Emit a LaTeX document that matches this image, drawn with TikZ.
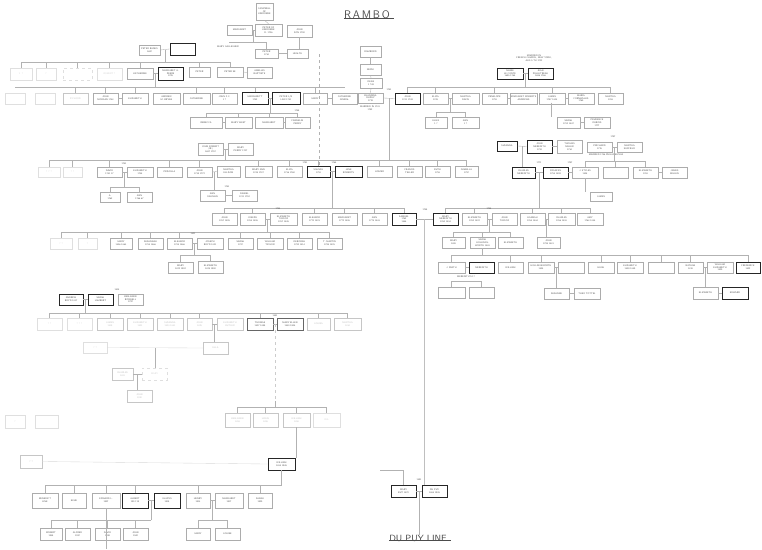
\documentclass[tikz,border=0pt]{standalone}
\usetikzlibrary{calc}
\newcommand\Bx[7][]{\node[bx,#1,minimum width=#5pt-#3pt,minimum height=#6pt-#4pt] (#2) at ({(#3+#5)/2},{(#4+#6)/2}) {#7};}
\newcommand\M[2]{\draw[ln] (#1.east) -- (#2.west); \coordinate (#1-#2) at ($(#1.east)!.5!(#2.west)$);}
\newcommand\Fam[5]{\draw[ln] (#1) -- (#1 |- 0,#2); \draw[ln] (#3.north |- 0,#2) -- (#4.north |- 0,#2); \draw[ln] (#1 |- 0,#2) -- (#3.north |- 0,#2);
 \foreach \ch in {#5}{\draw[ln] (\ch.north) -- (\ch.north |- 0,#2);}}
\begin{document}
\begin{tikzpicture}[x=1pt,y=-1pt,
 bx/.style={draw=gray!65,line width=0.35pt,fill=white,inner sep=0.2pt,align=center,font=\fontsize{2.3}{2.7}\selectfont\sffamily,text=gray!60!black},
 tk/.style={draw=black!85,line width=0.9pt},
 fd/.style={draw=gray!25,text=gray!35},
 lt/.style={draw=gray!45,text=gray!50},
 ln/.style={draw=gray!60,line width=0.35pt},
 lab/.style={font=\fontsize{2.3}{2.7}\selectfont\sffamily,text=gray!60!black,inner sep=0,align=center}]
\useasboundingbox[fill=white] (0,0) rectangle (762,549);
% title
\node[font=\fontsize{11}{12}\selectfont\sffamily,text=gray!60!black,inner sep=0] (title) at (367,15) {R\,A\,M\,B\,O};
\draw[gray!60!black,line width=0.4pt] (title.south west) ++(0,-1.5) -- ++(50,0);
% ---------- top cluster
\Bx{camp}{256}{3}{273}{20}{CAMPBELL\\OF\\KINROSSIE}
\Bx{marg0}{227}{25}{252}{35}{MARGARET}
\Bx{peter0}{255}{24}{282}{36}{PETER OF\\KINROSSIE\\D. 1726}
\Bx{unk0}{287}{25}{312}{37}{JOHN\\SON 1700}
\draw[ln] (camp.south) -- (peter0.north);
\M{marg0}{peter0}
\Bx{peterA4}{255}{49}{278}{58}{PETER\\1734}
\Bx{health}{287}{49}{308}{58}{HEALTH}
\M{peterA4}{health}
\draw[ln] (marg0-peter0) -- ++(0,12) coordinate (k1);
\draw[ln] (k1) -- (peterA4.north |- k1) -- (peterA4.north);
\draw[ln] (k1) -- ++(-25,0);
\node[lab] (mg) at (228,47) {MARY GALLEGHER};
\draw[ln] (unk0.south) -- (health.north -| unk0.south);
\coordinate (dtop) at (319,54);
% ---------- left top
\Bx{banks}{139}{45}{160}{55}{PETER BANKS\\1697}
\Bx[tk]{emp1}{170}{43}{195}{55}{}
\M{banks}{emp1}
\Bx[fd]{f1}{10}{68}{32}{80}{1 \ ?}
\Bx[fd]{f2}{36}{68}{56}{80}{?}
\Bx[fd,dashed]{f3}{63}{68}{92}{80}{}
\Bx[fd]{rob}{97}{68}{122}{80}{ROBERT ?}
\Bx{kath}{127}{68}{153}{79}{KATHERINE}
\Bx[tk]{mpeers}{158}{67}{183}{80}{MARGARET A.\\PEERS\\1705}
\Bx{peterB}{189}{67}{210}{77}{PETER}
\Bx{peterse}{217}{67}{243}{77}{PETER SE}
\Bx{amelia}{247}{67}{272}{78}{AMELIAS\\BAPTISTE}
\Fam{banks-emp1}{62}{f1}{peterse}{f1,f2,f3,rob,kath,peterB,peterse}
\M{kath}{mpeers}
\M{peterse}{amelia}
% row 2 left
\Bx[fd]{f4}{5}{93}{25}{104}{}
\Bx[fd]{f5}{35}{93}{55}{104}{}
\Bx[lt]{pfl}{63}{93}{88}{104}{P.\,FLOOD}
\Bx{john2}{93}{93}{118}{104}{JOHN\\MORGAN 1748}
\Bx{eliz2}{122}{93}{148}{104}{ELIZABETH}
\Bx{andrew2}{153}{93}{180}{104}{ANDREW\\M. BRYAN}
\Bx{cath2}{183}{93}{210}{104}{CATHERINE}
\Bx{johnfc}{212}{93}{237}{104}{JOHN F.C.\\1 ?}
\Bx[tk]{margt}{242}{92}{268}{104}{MARGARETT\\1742}
\Bx[tk]{peter81}{272}{92}{300}{104}{PETER 1/N\\LAW 1781}
\Bx{mary2}{303}{93}{327}{104}{MARY}
\Bx{cath3}{332}{93}{357}{104}{CATHERINE\\GIMBAL}
\Fam{kath-mpeers}{87}{f4}{cath3}{pfl,john2,eliz2,cath2,johnfc,margt,mary2}
\M{margt}{peter81}
\M{mary2}{cath3}
\M{john2}{eliz2}
\Bx{rebecca}{190}{117}{222}{128}{REBECCA}
\Bx{marywest}{225}{117}{252}{128}{MARY WEST}
\Bx{marg3}{255}{117}{283}{128}{MARGARET}
\Bx{franklin}{285}{117}{310}{128}{FRANKLIN\\PERRY}
\Fam{margt-peter81}{113}{rebecca}{franklin}{rebecca,marywest,marg3,franklin}
\M{rebecca}{marywest}
\M{marg3}{franklin}
\node[lab] at (297,111) {1745};
% right column
\Bx{rambord}{360}{46}{381}{57}{RAMBORD}
\Bx{nephi}{360}{64}{381}{75}{NEPHI}
\Bx{dean}{360}{78}{382}{88}{DEAN\\1 ?49}
\Bx{marr}{358}{93}{383}{103}{BLANDINA\\DUPUY\\1719}
\draw[ln] (rambord.south) -- (nephi.north);
\draw[ln] (nephi.south) -- (dean.north);
\draw[ln] (dean.south) -- (marr.north);
\node[lab] at (370,108) {MARRIED IN 1741\\1752};
\M{cath3}{marr}
% right top family
\node[lab] (mfc) at (534,58) {MARRIED IN\\FRENCH CHURCH, NEW YORK,\\AUG 5 TH 1722};
\Bx[tk]{hug}{497}{68}{523}{79}{MARIE\\LE CONTE\\1695 1764}
\Bx[tk]{jean}{528}{68}{553}{79}{JEAN\\PELLETREAU\\1696 1766}
\M{hug}{jean}
\Bx[tk]{johnR}{395}{93}{420}{104}{JOHN\\1741 1749}
\Bx{eliza}{423}{93}{448}{104}{ELIZA\\1743}
\Bx{marthaD}{452}{93}{479}{104}{MARTHA\\DAVIS}
\Bx{pen}{482}{93}{507}{104}{PENELOPE\\1751}
\Bx{margA}{510}{93}{537}{104}{MARGARET ROBERTS\\ANDREWS}
\Bx{jamesR}{539}{93}{565}{104}{JAMES\\1757 1808}
\Bx{mariaC}{568}{93}{594}{104}{MARIA\\CORNWALLIS\\1760}
\Bx{marthaR}{598}{93}{623}{104}{MARTHA\\1763}
\Fam{hug-jean}{87}{johnR}{marthaR}{johnR,eliza,pen,jamesR,marthaR}
\M{marr}{johnR}
\node[lab] at (389,90) {1741};
\M{eliza}{marthaD}
\M{pen}{margA}
\M{jamesR}{mariaC}
\Bx{eliz3}{425}{117}{447}{128}{ELIZA\\1 ?}
\Bx{ann3}{452}{117}{479}{128}{ANN\\1 ?}
\Fam{eliza-marthaD}{112}{eliz3}{ann3}{eliz3,ann3}
\Bx{sarah3}{557}{117}{580}{128}{SARAH\\1782 1847}
\Bx{prud}{584}{117}{610}{128}{PRUDENCE\\DUBOIS\\1777}
\draw[ln] (jamesR-mariaC) ++(-15,4) coordinate (k2) -- (sarah3.north -| k2);
\M{sarah3}{prud}
% long lines
\draw[ln] (marr-johnR) -- ++(0,62) coordinate (k3);
% middle row
\Bx{jr}{198}{143}{223}{155}{JOHN ROBERT\\(JR.)\\1697 1757}
\Bx{maryp}{228}{143}{253}{155}{MARY\\PERRY 1707}
\M{jr}{maryp}
\Bx[fd]{f6}{38}{167}{60}{177}{? ? ?}
\Bx[fd]{f7}{63}{167}{82}{177}{? ?}
\Bx{david}{97}{167}{122}{177}{DAVID\\1741 17}
\Bx{elizM}{127}{167}{153}{177}{ELIZABETH\\1738}
\Bx{prisc}{157}{167}{182}{177}{PRISCILLA}
\Bx{b187}{187}{167}{212}{177}{JOHN\\1739 1772}
\Bx{marthaE}{217}{166}{240}{177}{MARTHA\\ELLISON}
\Bx{maryM}{245}{166}{272}{177}{MARY ANN\\1745 1787}
\Bx{b277}{277}{166}{302}{177}{ELIZA\\1736 1760}
\Bx[tk]{samuel}{307}{166}{330}{177}{SAMUEL\\1751}
\Bx[tk]{jane}{335}{166}{362}{177}{JANE\\ROBERTS}
\Bx{homer}{367}{166}{392}{177}{HOMER}
\Bx{francis}{397}{166}{422}{177}{FRANCIS\\TELLER}
\Bx{ruth}{425}{166}{450}{177}{RUTH\\1753}
\Bx{isab}{455}{166}{478}{177}{ISABELLA\\1757}
\Fam{jr-maryp}{160}{f6}{isab}{f6,f7,david,prisc,b187,maryM,b277,samuel,homer,francis,ruth,isab}
\M{david}{elizM}
\M{b187}{marthaE}
\M{samuel}{jane}
\node[lab] at (305,163) {1751};
\node[lab] at (334,163) {1764};
\node[lab] at (124,164) {1741};
\draw[ln,dashed] (dtop) -- (samuel.north -| dtop);
\Bx{aX}{100}{192}{120}{202}{A.\\1762}
\Bx{annX}{127}{192}{152}{202}{ANN\\1766 67}
\Fam{david-elizM}{187}{aX}{annX}{aX,annX}
\Bx{annO}{200}{190}{225}{201}{ANN\\OAKMAN}
\Bx{daniel}{232}{190}{257}{201}{DANIEL\\1741 1752}
\draw[ln] (b187-marthaE) -- (annO.north -| b187-marthaE);
\M{annO}{daniel}
\node[lab] at (227,187) {1741};
% ---------- right middle cluster
\Bx[tk]{susanna}{497}{141}{517}{151}{SUSANNA}
\Bx[tk]{jmer}{527}{140}{552}{153}{JOHN\\MEREDITH\\1724}
\Bx{tmill}{557}{140}{582}{153}{THOMAS\\MILLER\\1734}
\Bx{prich}{587}{142}{612}{152}{PRICHARD\\1715}
\Bx{msuff}{617}{142}{642}{152}{MARTHA\\SUFFIELD}
\M{susanna}{jmer}
\M{jmer}{tmill}
\M{prich}{msuff}
\node[lab] at (613,137) {1757};
\node[lab] at (606,155) {MARRIED 1756 PHILADELPHIA};
\Bx[tk]{charles}{512}{167}{535}{178}{CHARLES\\MEREDITH}
\Bx[tk]{frances}{543}{167}{568}{178}{FRANCES\\1758 1809}
\Bx{styles}{572}{167}{598}{178}{J. STYLES\\1808}
\Bx{empt2}{603}{167}{628}{178}{}
\Bx{elizB}{633}{167}{658}{178}{ELIZABETH\\1761}
\Bx{jmillen}{662}{167}{687}{178}{JAMES\\MILLEN}
\draw[ln] (susanna-jmer) -- (charles.north -| susanna-jmer);
\Fam{prich-msuff}{161}{styles}{elizB}{styles,empt2,elizB}
\M{charles}{frances}
\M{frances}{styles}
\M{elizB}{jmillen}
\node[lab] at (539,163) {1771};
\node[lab] at (570,163) {1757};
\Bx{james}{590}{192}{612}{201}{JAMES}
\draw[ln] (styles.south) -- (james.north -| styles.south);
% row y 213
\Bx{john4}{212}{213}{237}{225}{JOHN\\1767 1805}
\Bx{jane4}{240}{213}{265}{225}{JOSEPH\\1768 1826}
\Bx{elizT}{270}{213}{297}{225}{ELIZABETH\\TAYLOR\\1767 1845}
\Bx{eleanor}{302}{213}{327}{225}{ELEANOR\\1770 1823}
\Bx{margT}{332}{213}{357}{225}{MARGARET\\1772 1826}
\Bx{ann4}{362}{213}{387}{225}{ANN\\1775 1843}
\Bx[tk]{hannah}{392}{213}{416}{225}{SAMUEL\\1762\\1844}
\Fam{samuel-jane}{208}{john4}{hannah}{john4,jane4,eleanor,margT,ann4,hannah}
\M{jane4}{elizT}
\node[lab] at (278,209) {1783};
\Bx[tk]{mmer}{433}{213}{458}{225}{MARY\\MEREDITH\\1760 1834}
\Bx{eliz5}{462}{213}{487}{225}{ELIZABETH\\1762 1822}
\Bx{jtay}{492}{213}{517}{225}{JOHN\\TAYLOR}
\Bx{hann5}{520}{213}{545}{225}{HANNAH\\1764 1844}
\Bx{char5}{548}{213}{575}{225}{CHARLES\\1766 1838}
\Bx{amy}{577}{213}{603}{225}{AMY\\1768 1834}
\Fam{charles-frances}{208}{mmer}{amy}{mmer,eliz5,hann5,char5,amy}
\M{hannah}{mmer}
\node[lab] at (425,210) {1785};
\M{eliz5}{jtay}
\M{hann5}{char5}
\node[lab] at (489,209) {1788};
% row y 237
\Bx[fd]{f8}{50}{238}{72}{249}{? ?}
\Bx[fd]{f9}{78}{238}{97}{249}{?}
\Bx{mary6}{110}{238}{132}{249}{MARY\\1806 1863}
\Bx{susan6}{138}{238}{163}{249}{SUSANNAH\\1784 1866}
\Bx{elea6}{167}{238}{192}{249}{ELEANOR\\1785 1866}
\Bx{jos6}{197}{238}{223}{249}{JOSEPH\\BOYD 1821}
\Bx{sarah6}{228}{238}{253}{249}{SARAH\\1787}
\Bx{will6}{257}{238}{283}{249}{WILLIAM\\TAYLOR}
\Bx{deb6}{287}{238}{312}{249}{DEBORAH\\1792 1814}
\Bx{tmart}{317}{238}{342}{249}{T. MARTIN\\1795 1876}
\Fam{jane4-elizT}{232}{f8}{tmart}{f8,f9,mary6,susan6,elea6,sarah6,will6,deb6,tmart}
\M{elea6}{jos6}
\node[lab] at (193,234) {1821};
\Bx{mary7}{168}{262}{193}{273}{MARY\\1822 1902}
\Bx{eliz7}{198}{261}{223}{273}{ELIZABETH\\1825 1900}
\Fam{elea6-jos6}{255}{mary7}{eliz7}{mary7,eliz7}
\Bx{mary8}{442}{237}{465}{248}{MARY\\1808}
\Bx{susan8}{470}{237}{495}{248}{SARAH\\HOLLINGS-\\WORTH 1888}
\Bx{eliz8}{498}{237}{523}{248}{ELIZABETH}
\Fam{eliz5-jtay}{232}{mary8}{eliz8}{mary8,susan8,eliz8}
\Bx{john8}{537}{237}{560}{248}{JOHN\\1795 1881}
\draw[ln] (hann5-char5) -- (john8.north -| hann5-char5);
% row y 262
\Bx{smith}{438}{262}{465}{273}{J. SMITH}
\Bx[tk]{mered9}{469}{262}{494}{273}{MEREDITH}
\Bx{will9}{498}{262}{523}{273}{WILLIAM}
\Bx{bost9}{528}{262}{554}{273}{HOLLINGSWORTH\\1803}
\Bx{emp9}{558}{262}{584}{273}{}
\Bx{hugh9}{588}{262}{614}{273}{HUGH}
\Bx{eliz9}{617}{262}{643}{273}{ELIZABETH\\1809 1849}
\Bx{emp10}{648}{262}{674}{273}{}
\Bx{nath9}{678}{262}{703}{273}{NATHAN\\1818}
\Bx{will10}{707}{262}{733}{273}{WILLIAM\\ELIZABETH\\1820}
\Bx[tk]{fred9}{736}{262}{760}{273}{FREDERICK\\1822}
\draw[ln] (susan8.south) -- ++(0,7) coordinate (k4);
\draw[ln] (smith.north |- k4) -- (fred9.north |- k4);
\foreach \ch in {smith,will9,bost9,hugh9,eliz9,emp10,nath9,fred9}{\draw[ln] (\ch.north) -- (\ch.north |- k4);}
\M{smith}{mered9}
\M{bost9}{emp9}
\M{nath9}{will10}
\node[lab] at (466,277) {MEREDITH'S 1?};
\Bx{e1}{438}{287}{465}{298}{}
\Bx{e2}{469}{287}{494}{298}{}
\draw[ln] (e1.north) -- ++(0,-6) -| (e2.north);
\Bx{susanne}{544}{288}{569}{299}{SUSANNE}
\Bx{theo}{574}{288}{600}{299}{THEO TOTTEL}
\draw[ln] (bost9-emp9) -- (susanne.north -| bost9-emp9);
\M{susanne}{theo}
\Bx{eliz11}{693}{287}{718}{299}{ELIZABETH}
\Bx[tk]{edw11}{722}{287}{748}{299}{EDWARD}
\draw[ln] (nath9-will10) -- (eliz11.north -| nath9-will10);
\M{eliz11}{edw11}
% ---------- lower left cluster
\Bx[tk]{b1}{59}{294}{83}{305}{ANDREW\\BOYD 1817}
\Bx[tk]{b2}{88}{294}{113}{305}{SARAH\\LAMBERT}
\Bx{b3}{118}{294}{143}{305}{BENJAMIN\\BOSWELL\\1797}
\M{b1}{b2}
\node[lab] at (117,290) {1818};
\Bx[fd]{c1}{37}{318}{62}{330}{? ?}
\Bx[fd]{c2}{67}{318}{92}{330}{? ? ?}
\Bx[lt]{c3}{97}{318}{123}{330}{JAMES\\1819}
\Bx[lt]{c4}{127}{318}{153}{330}{ELIZABETH\\1821}
\Bx[lt]{c5}{157}{318}{183}{330}{SUSANNA\\1823 1841}
\Bx[lt]{c6}{187}{318}{212}{330}{JOHN\\1825}
\Bx[lt]{c7}{217}{318}{243}{330}{ELIZABETH\\BUTLER}
\Bx[tk,draw=black!60]{c8}{247}{318}{273}{330}{THOMAS\\1827 1895}
\Bx[tk,draw=black!60]{c9}{277}{318}{303}{330}{MARY ELLEN\\1830 1904}
\Bx[lt]{c10}{307}{318}{330}{330}{LOUISA}
\Bx[lt]{c11}{334}{318}{361}{330}{MARTHA\\1834}
\Fam{b1-b2}{313}{c1}{c11}{c1,c2,c3,c4,c5,c6,c8,c10,c11}
\M{c6}{c7}
\M{c8}{c9}
\node[lab] at (275,316) {1851};
\Bx[lt]{d1}{203}{342}{228}{354}{ELLA}
\Bx[fd]{d0}{83}{342}{107}{353}{? ?}
\draw[ln] (c6-c7) -- (d1.north -| c6-c7);
\draw[ln,gray!30] (d0.east) -- (d1.west);
\coordinate (k5) at (155,348);
\Bx[lt]{d2}{112}{368}{133}{380}{CHARLES\\1881}
\Bx[fd,dashed]{d3}{142}{368}{167}{380}{MARY}
\draw[ln] (k5) -- (k5 |- d2.north);
\M{d2}{d3}
\Bx[lt]{d4}{127}{390}{152}{402}{JOHN\\1910}
\draw[ln] (d2-d3) -- (d4.north -| d2-d3);
\draw[ln,dashed,gray!40] (c8-c9) -- ++(0,77) coordinate (k6);
\Bx[lt]{g1}{225}{413}{250}{427}{BENJAMIN\\1853}
\Bx[lt]{g2}{253}{413}{278}{427}{LEWIS\\1855}
\Bx[lt]{g3}{283}{413}{310}{427}{WILLIAM\\1858}
\Bx[fd]{g4}{313}{413}{340}{427}{IDA}
\Fam{k6}{407}{g1}{g4}{g1,g2,g3,g4}
\Bx[fd]{g0}{5}{415}{25}{428}{?}
\Bx[fd]{g00}{35}{415}{58}{428}{}
\Bx[tk]{h1}{268}{458}{295}{470}{WILLIAM\\1884 1945}
\Bx[lt]{h0}{20}{455}{42}{468}{? ?}
\draw[ln] (g3.south) -- (h1.north -| g3.south);
\draw[ln,gray!30] (h0.east) -- (h1.west);
\Bx{i1}{32}{493}{58}{508}{BENEDICT\\LINE}
\Bx{i2}{62}{493}{86}{508}{ELSIE}
\Bx{i3}{92}{493}{120}{508}{EDWARD L.\\1907}
\Bx[tk]{i4}{122}{493}{148}{508}{ALBERT\\1912 19}
\Bx[tk]{i5}{154}{493}{180}{508}{GLADYS\\1915}
\Bx{i6}{186}{493}{210}{508}{HENRY\\1913}
\Bx{i7}{215}{493}{243}{508}{MARGARET\\1917}
\Bx{i8}{248}{493}{272}{508}{SARAH\\1920}
\Fam{h1}{485}{i1}{i8}{i1,i2,i3,i4,i6,i8}
\M{i4}{i5}
\M{i6}{i7}
\Bx{j1}{40}{528}{62}{540}{ROBERT\\1935}
\Bx{j2}{65}{528}{90}{540}{ALFRED\\1937}
\Bx{j3}{95}{528}{120}{540}{DAVID\\1939}
\Bx{j4}{123}{528}{148}{540}{JOHN\\1942}
\Fam{i4-i5}{520}{j1}{j4}{j1,j2,j3,j4}
\Bx{j5}{186}{528}{210}{540}{MARY}
\Bx{j6}{215}{528}{240}{540}{LOUISE}
\Fam{i6-i7}{520}{j5}{j6}{j5,j6}
\draw[ln] (i3.south) -- ++(0,41);
% ---------- bottom right
\Bx[tk]{maryB}{391}{485}{416}{497}{MARY\\BUT 1870}
\Bx[tk]{dpy}{422}{485}{447}{497}{DU PUY\\1868 1935}
\M{maryB}{dpy}
\node[lab] at (419,480) {1891};
\coordinate (k7) at (380,470);
\draw[ln] (k7) -| (maryB.north);
\draw[ln,gray!50] (hannah-mmer) -- (hannah-mmer |- dpy.north);
\node[font=\fontsize{9}{10}\selectfont\sffamily,text=gray!60!black,inner sep=0] (dpl) at (418,538) {DU PUY LINE};
\draw[gray!60!black,line width=0.4pt] (dpl.south west) ++(0,-1) -- ++(62,0);
\draw[ln] (maryB-dpy) -- (dpl.north -| maryB-dpy);
\end{tikzpicture}
\end{document}
